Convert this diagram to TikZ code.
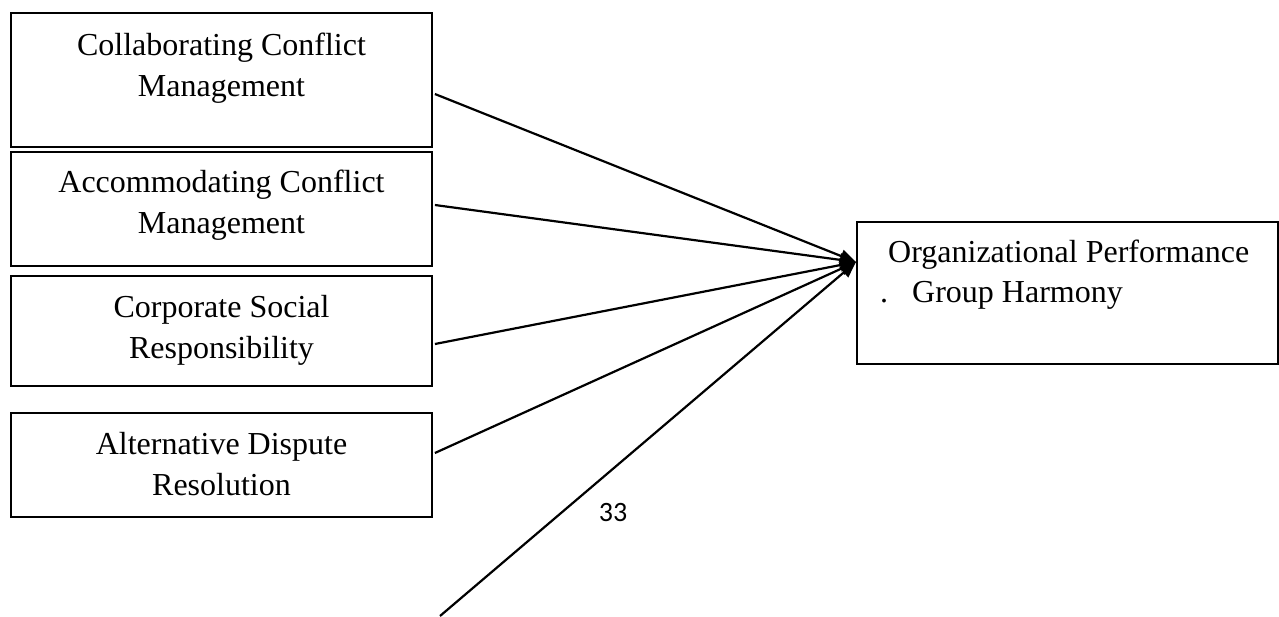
\documentclass[tikz,border=0pt]{standalone}
\usepackage{fontspec}
\setmainfont{Liberation Serif}
\newfontfamily\pagefont{Carlito}
\usetikzlibrary{arrows.meta,positioning}
\tikzstyle{box}=[rectangle, draw=black, line width=1.8pt, minimum width=421pt, inner sep=0pt]
\tikzstyle{txt}=[align=center, font=\fontsize{32}{41}\selectfont, inner sep=0pt, anchor=base]
\tikzstyle{l1}=[line width=2.2pt, -{Triangle[length=16pt,width=13pt]}]

\begin{document}
\begin{tikzpicture}[x=1pt, y=-1pt]
    \useasboundingbox (0,0) rectangle (1279,616);

    \node[box, minimum height=134pt] at (221.5,80) (1) {};
    \node[box, minimum height=114pt] at (221.5,209) (2) {};
    \node[box, minimum height=110pt] at (221.5,331) (3) {};
    \node[box, minimum height=104pt] at (221.5,465) (4) {};
    \node[box, minimum height=142pt] at (1067.5,293) (5) {};

    % base anchor sits on the last line
    \node[txt] at (221.5,96) (t1) {Collaborating Conflict\\Management};
    \node[txt] at (221.5,233) (t2) {Accommodating Conflict\\Management};
    \node[txt] at (221.5,358) (t3) {Corporate Social\\Responsibility};
    \node[txt] at (221.5,495) (t4) {Alternative Dispute\\Resolution};
    \node[txt, anchor=base west] at (888,262) (t5) {Organizational Performance};
    \node[txt, anchor=base west] at (880,302) (t6) {.\hspace{24pt}Group Harmony};

    \node[font=\pagefont\fontsize{28}{32}\selectfont, inner sep=0pt, anchor=base] at (613,521) (p) {33};

    \coordinate (tip) at (856,262);
    \coordinate (s5) at (440,616);

    \draw[l1] ([shift={(2,14)}]1.east) -- (tip);
    \draw[l1] ([shift={(2,-4)}]2.east) -- (tip);
    \draw[l1] ([shift={(2,13)}]3.east) -- (tip);
    \draw[l1] ([shift={(2,-12)}]4.east) -- (tip);
    \draw[l1] (s5) -- (tip);

\end{tikzpicture}
\end{document}
